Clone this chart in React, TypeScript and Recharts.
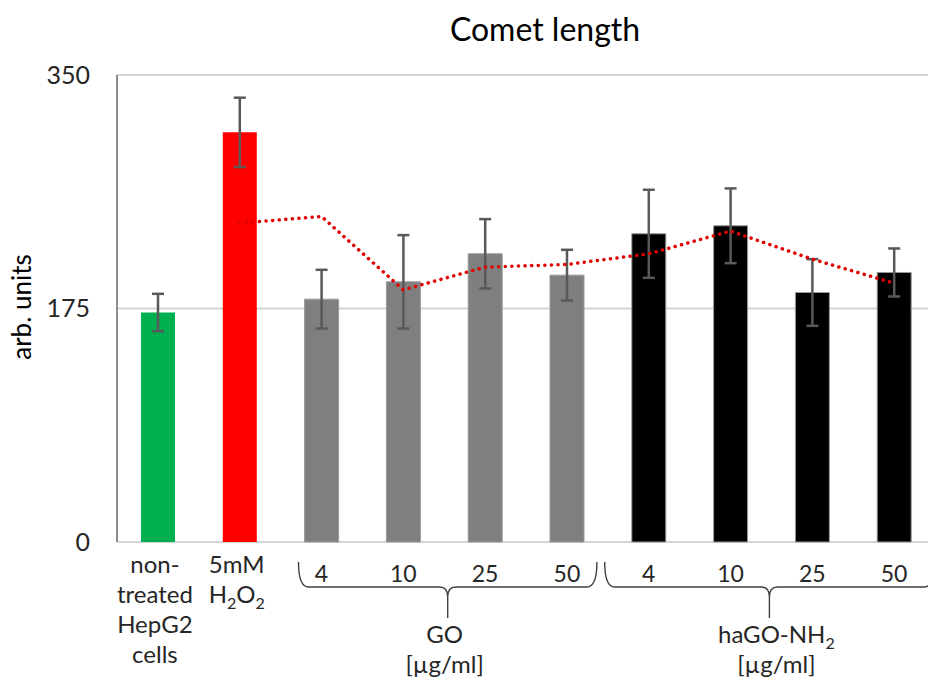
import React from "react";
import { Bar, Cell, ComposedChart, CartesianGrid, Customized, ErrorBar, Line, XAxis, YAxis } from "recharts";

// one entry per bar, left to right
const categories = ["control", "H2O2", "GO 4", "GO 10", "GO 25", "GO 50", "haGO 4", "haGO 10", "haGO 25", "haGO 50"];
const tickLines = [
  ["non-", "treated", "HepG2", "cells"],
  ["5mM", "H_2O_2"],
  ["4"], ["10"], ["25"], ["50"],
  ["4"], ["10"], ["25"], ["50"],
];
const cometLength = [172, 307, 182, 195, 216, 200, 231, 237, 187, 202];
const cometError = [14, 26, 22, 35, 26, 19, 33, 28, 25, 18];
// 2-point moving average trendline
const trendValues = [null, 239, 244, 189, 206, 208, 216, 233, 212, 194];
const barColors = ["#00b050", "#ff0000", "#7f7f7f", "#7f7f7f", "#7f7f7f", "#7f7f7f", "#000000", "#000000", "#000000", "#000000"];
const yTicks = [0, 175, 350];

const groupLabels = [["GO", "[µg/ml]"], ["haGO-NH_2", "[µg/ml]"]];
const groupRanges = [[2, 5], [6, 9]];

const FONT = "Lato, 'Open Sans', sans-serif";
const CHART_W = 940;
const CHART_H = 680;
const PLOT_LEFT = 117;
const PLOT_RIGHT = 935;
const PLOT_BOTTOM = 542;
const BAND = (PLOT_RIGHT - PLOT_LEFT) / categories.length;

// brace ends relative to first/last bar centre of the group, label nudge
const braceLayout = [
  { padL: 23, padR: 30, labelDx: -3 },
  { padL: 44, padR: 40, labelDx: 7 },
];

const data = categories.map((name, i) => ({
  name,
  value: cometLength[i],
  err: cometError[i],
  trend: trendValues[i],
}));

function rich(s: string, subSize: number) {
  const parts = s.split(/_(\d)/);
  return parts.map((p, i) =>
    i % 2 ? (
      <tspan key={i} dy={6} fontSize={subSize}>{p}</tspan>
    ) : (
      <tspan key={i} dy={i > 0 ? -6 : 0}>{p}</tspan>
    )
  );
}

function Brace({ left, right, top }: { left: number; right: number; top: number }) {
  const mid = (left + right) / 2;
  const yH = top + 25;
  const yP = top + 56;
  const d =
    `M${left},${top} Q${left},${yH} ${left + 10},${yH} L${mid - 8},${yH} Q${mid},${yH} ${mid},${yH + 10} L${mid},${yP} ` +
    `M${mid},${yH + 10} Q${mid},${yH} ${mid + 8},${yH} L${right - 10},${yH} Q${right},${yH} ${right},${top}`;
  return <path d={d} fill="none" stroke="#404040" strokeWidth={1.4} />;
}

function CategoryTick(props: any) {
  const { x, index } = props;
  const lines = tickLines[index] || [];
  const multi = lines.length > 1;
  const base = multi ? PLOT_BOTTOM + 31 : PLOT_BOTTOM + 40;
  const cx = multi ? x - 3 : x;
  const g = groupRanges.findIndex((r) => r[0] === index);
  let brace = null;
  if (g >= 0) {
    const [a, b] = groupRanges[g];
    const lay = braceLayout[g];
    const left = x - lay.padL;
    const right = x + (b - a) * BAND + lay.padR;
    const mid = (left + right) / 2 + lay.labelDx;
    brace = (
      <g>
        <Brace left={left} right={right} top={PLOT_BOTTOM + 20} />
        {groupLabels[g].map((l, j) => (
          <text key={j} x={mid} y={PLOT_BOTTOM + 101 + j * 30} textAnchor="middle" fontSize={24} fontFamily={FONT} fill="#262626">
            {rich(l, 16)}
          </text>
        ))}
      </g>
    );
  }
  return (
    <g>
      {lines.map((l, j) => (
        <text key={j} x={cx} y={base + j * 30} textAnchor="middle" fontSize={multi ? 24 : 23} fontFamily={FONT} fill="#262626">
          {rich(l, 16)}
        </text>
      ))}
      {brace}
    </g>
  );
}

function Labels() {
  return (
    <g>
      <text x={545} y={41} textAnchor="middle" fontSize={32} fontFamily={FONT} fill="#000">
        Comet length
      </text>
      <text x={31} y={307} transform="rotate(-90, 31, 307)" textAnchor="middle" fontSize={26} fontFamily={FONT} fill="#000">
        arb. units
      </text>
    </g>
  );
}

export default function App() {
  return (
    <div style={{ position: "absolute", left: 0, top: 0, width: 928, height: 680, overflow: "hidden", background: "#fff" }}>
      <ComposedChart width={CHART_W} height={CHART_H} data={data} margin={{ top: 75, right: CHART_W - PLOT_RIGHT, bottom: 0, left: 0 }}>
        <CartesianGrid vertical={false} stroke="#d4d4d4" strokeWidth={2} />
        <XAxis
          dataKey="name"
          height={CHART_H - PLOT_BOTTOM}
          axisLine={false}
          tickLine={false}
          interval={0}
          tick={<CategoryTick />}
        />
        <YAxis
          width={PLOT_LEFT}
          domain={[0, 350]}
          ticks={yTicks}
          tickLine={false}
          tickSize={0}
          tickMargin={27}
          axisLine={{ stroke: "#8c8c8c", strokeWidth: 2 }}
          tick={{ fontSize: 25, fontFamily: FONT, fill: "#262626" }}
        />
        <Bar dataKey="value" barSize={34} isAnimationActive={false}>
          {barColors.map((c, i) => (
            <Cell key={i} fill={c} stroke={i >= 2 ? "#9a9a9a" : "none"} strokeWidth={1} />
          ))}
          <ErrorBar dataKey="err" width={6} stroke="#595959" strokeWidth={2.5} />
        </Bar>
        <Line
          dataKey="trend"
          type="linear"
          stroke="#e00000"
          strokeWidth={3.5}
          strokeDasharray="0.1 6.5"
          strokeLinecap="round"
          dot={false}
          activeDot={false}
          isAnimationActive={false}
        />
        <Customized component={<Labels />} />
      </ComposedChart>
    </div>
  );
}
